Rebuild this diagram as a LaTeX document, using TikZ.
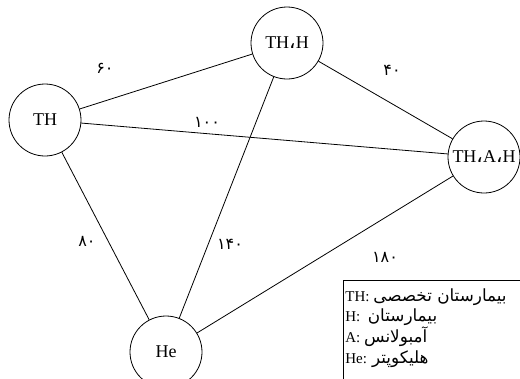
\documentclass[tikz,border=0pt]{standalone}
\usepackage{fontspec}
\setmainfont{Liberation Serif}
\newfontfamily\arabicfont[Script=Arabic,Scale=1.12]{DejaVu Sans}
\newfontfamily\digitfont{DejaVu Sans}
\TeXXeTstate=1
\usepackage{tikz}

\begin{document}
\begin{tikzpicture}[x=1pt,y=-1pt,line width=0.8pt,
    city/.style={circle,draw,minimum size=72pt,inner sep=0pt,font=\fontsize{18}{20}\selectfont},
    cost/.style={font=\digitfont\fontsize{16}{18}\selectfont},
    legend/.style={align=left,inner sep=0pt,font=\fontsize{15}{20.7}\selectfont}]
    \useasboundingbox (0,0) rectangle (520,378);
    \clip (0,0) rectangle (520,378);
    \node[city] (th) at (45,120) {TH};
    \node[city] (thh) at (287,43) {TH{\arabicfont ،}H};
    \node[city] (thah) at (484,157) {TH{\arabicfont ،}A{\arabicfont ،}H};
    \node[city] (he) at (166,352) {He};
    \draw (th) -- (thh);
    \draw (thh) -- (thah);
    \draw (th) -- (thah);
    \draw (th) -- (he);
    \draw (thh) -- (he);
    \draw (he) -- (thah);
    \node[cost] (c60) at (105,68) {۶۰};
    \node[cost] (c40) at (392,70) {۴۰};
    \node[cost] (c100) at (207,122) {۱۰۰};
    \node[cost] (c80) at (87,241) {۸۰};
    \node[cost] (c140) at (230,244) {۱۴۰};
    \node[cost] (c180) at (385,257) {۱۸۰};
    % legend box runs off the page
    \draw (343,400) -- (343,280) -- (530,280);
    \node[legend,anchor=north west] (key) at (345,288)
      {TH: {\arabicfont\beginR بیمارستان تخصصی\endR}\\
       H:\ \ {\arabicfont\beginR بیمارستان\endR}\\
       A: {\arabicfont\beginR آمبولانس\endR}\\
       He: {\arabicfont\beginR هلیکوپتر\endR}};
  \end{tikzpicture}
\end{document}
